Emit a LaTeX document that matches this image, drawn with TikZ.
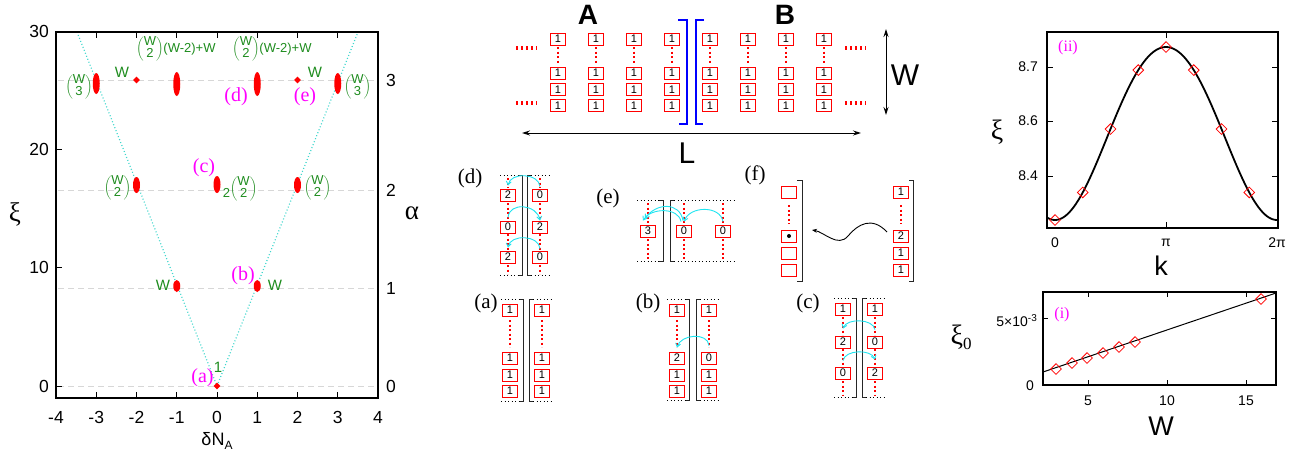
\documentclass[tikz,border=0pt]{standalone}
\usepackage{fontspec}
\setmainfont{Liberation Sans}
\newfontfamily\serifff{Liberation Serif}
\usetikzlibrary{arrows.meta,shapes.geometric}
\definecolor{grn}{RGB}{30,140,30}
\definecolor{mag}{RGB}{255,0,255}
\definecolor{turq}{RGB}{64,215,205}
\definecolor{cy}{RGB}{30,228,240}
\definecolor{lgray}{RGB}{215,215,215}
\newcommand{\fs}[1]{\fontsize{#1}{#1}\selectfont}
\newcommand{\bnm}[2]{$\left(\vcenter{\hbox{\fs{13}\begin{tabular}{@{}c@{}}#1\\[-1.5pt]#2\end{tabular}}}\right)$}
\newcommand{\brkpair}[4]{%
  \draw[brk] ({#1-4},#3) -- (#1,#3) -- (#1,#4) -- ({#1-4},#4);
  \draw[brk] ({#2+4},#3) -- (#2,#3) -- (#2,#4) -- ({#2+4},#4);
  \draw[kdots] ({#1-22},#3) -- ({#1-4},#3);
  \draw[kdots] ({#1-22},#4) -- ({#1-4},#4);
  \draw[kdots] ({#2+4},#3) -- ({#2+22},#3);
  \draw[kdots] ({#2+4},#4) -- ({#2+22},#4);
}
\begin{document}
\begin{tikzpicture}[x=1pt,y=-1pt,
  tick/.style={font=\fs{17.5}, inner sep=0pt},
  bx/.style={draw=red, line width=0.8pt, fill=white, minimum width=15pt, minimum height=12pt, inner sep=0pt, font=\fs{11}},
  rdots/.style={red, line width=1.6pt, dash pattern=on 2pt off 2.5pt},
  hdots/.style={red, line width=3.5pt, dash pattern=on 1.5pt off 3.5pt},
  kdots/.style={black, line width=0.7pt, dash pattern=on 1pt off 2.5pt},
  brk/.style={black!85, line width=1pt},
  carrow/.style={cy, line width=0.9pt, -{Straight Barb[length=3.5pt,width=5pt]}},
  glab/.style={text=grn, font=\fs{13}, inner sep=0pt},
  mlab/.style={text=mag, font=\serifff\fs{20}, inner sep=0pt},
  plab/.style={font=\serifff\fs{21}, inner sep=0pt},
  dmd/.style={diamond, draw=red, line width=0.8pt, minimum size=11pt, inner sep=0pt},
  blob/.style={ellipse, fill=red, inner sep=0pt, minimum width=7pt},
]
\useasboundingbox (0,0) rectangle (1316,464);

% ================= LEFT PLOT =================
\foreach \yy/\lab [count=\i] in {386/0, 288.3/1, 190/2, 80/3}{
  \draw[lgray, line width=1pt, dash pattern=on 6pt off 4pt] (58,\yy) -- (376,\yy);
  \node[tick, anchor=west] (alab\i) at (386,\yy) {\lab};
}
\coordinate (vO) at (217,386);
\coordinate (vL) at (77,32);
\coordinate (vR) at (358,32);
\draw[turq, line width=1.2pt, dash pattern=on 1pt off 2.2pt] (vL) -- (vO) -- (vR);
\draw[line width=1.6pt] (56,32) rectangle (378,398);
\foreach \xx/\lab [count=\i] in {56/-4, 96.25/-3, 136.5/-2, 176.75/-1, 217/0, 257.25/1, 297.5/2, 337.75/3, 378/4}{
  \node[tick] (xl\i) at (\xx,417) {\lab};
}
\foreach \xx in {96.25,136.5,176.75,217,257.25,297.5,337.75}{
  \draw[line width=1pt] (\xx,398) -- (\xx,392);
  \draw[line width=1pt] (\xx,32) -- (\xx,38);
}
\foreach \yy/\lab [count=\i] in {386/0, 267.8/10, 149.6/20, 31.4/30}{
  \draw[line width=1pt] (56,\yy) -- (62,\yy);
  \node[tick, anchor=east] (yl\i) at (49,\yy) {\lab};
}
\node[font=\fs{18}] (dna) at (217,441) {δN\raisebox{-4pt}{\fs{12}A}};
\node[font=\serifff\fs{27}] (xilab) at (15,214) {ξ};
\node[font=\serifff\fs{27}] (alab) at (412,213) {α};

% points
\node[diamond, fill=red, minimum size=7pt, inner sep=0pt] (p0) at (217,386) {};
\node[blob, minimum height=12pt] (pa1) at (176.75,286) {};
\node[blob, minimum height=12pt] (pb1) at (257.25,286) {};
\node[blob, minimum height=16pt] (pa2) at (136.5,185) {};
\node[blob, minimum height=17pt] (pb2) at (217,184.5) {};
\node[blob, minimum height=16pt] (pc2) at (297.5,185) {};
\node[blob, minimum height=21pt] (pa3) at (96.25,83.5) {};
\node[blob, minimum height=24pt] (pb3) at (176.75,84) {};
\node[blob, minimum height=24pt] (pc3) at (257.25,84) {};
\node[blob, minimum height=21pt] (pd3) at (337.75,83.5) {};
\node[diamond, fill=red, minimum size=7pt, inner sep=0pt] (pe3) at (136.5,80) {};
\node[diamond, fill=red, minimum size=7pt, inner sep=0pt] (pf3) at (297.5,80) {};

% green labels
\node[glab, font=\fs{15}] (g1) at (122,72) {W};
\node[glab, font=\fs{15}] (g2) at (315,72) {W};
\node[glab] (g3) at (176,49) {\bnm{W}{2}(W-2)+W};
\node[glab] (g4) at (272,49) {\bnm{W}{2}(W-2)+W};
\node[glab] (g5) at (79,87) {\bnm{W}{3}};
\node[glab] (g6) at (357.5,87) {\bnm{W}{3}};
\node[glab] (g7) at (117.5,188) {\bnm{W}{2}};
\node[glab] (g8) at (317.5,188) {\bnm{W}{2}};
\node[glab] (g9) at (240,189) {\raisebox{-5pt}{2}\bnm{W}{2}};
\node[glab, font=\fs{15}] (g10) at (163,285) {W};
\node[glab, font=\fs{15}] (g11) at (275,285) {W};
\node[glab, font=\fs{15}] (g12) at (218,367) {1};

% magenta labels
\node[mlab] (ma) at (202.5,378) {(a)};
\node[mlab] (mb) at (243,276) {(b)};
\node[mlab] (mc) at (204,168) {(c)};
\node[mlab] (md) at (236,97) {(d)};
\node[mlab] (me) at (305,97) {(e)};

% ================= MIDDLE TOP =================
\foreach \xx [count=\c] in {558,596,634,672,710,748,786,824}{
  \draw[rdots] (\xx,47) -- (\xx,64);
  \node[bx] (t\c-a) at (\xx,39) {1};
  \node[bx] (t\c-b) at (\xx,73) {1};
  \node[bx] (t\c-c) at (\xx,89.7) {1};
  \node[bx] (t\c-d) at (\xx,105.3) {1};
}
\draw[hdots] (516,48) -- (537,48);
\draw[hdots] (516,103) -- (537,103);
\draw[hdots] (845,48) -- (866,48);
\draw[hdots] (845,103) -- (866,103);
\draw[blue, line width=1.3pt] (678,20) -- (687,20) -- (687,124) -- (679,124);
\draw[blue, line width=1.3pt] (704,20) -- (696,20) -- (696,124) -- (703,124);
\node[font=\bfseries\fs{28}] (lA) at (588,15) {A};
\node[font=\bfseries\fs{28}] (lB) at (785,15) {B};
\coordinate (wT) at (886,29);
\coordinate (wB) at (886,115);
\draw[line width=1pt, {Stealth[length=8pt,width=5pt]}-{Stealth[length=8pt,width=5pt]}] (wT) -- (wB);
\node[font=\fs{30}] (lW) at (905,75) {W};
\coordinate (lL1) at (522,133);
\coordinate (lL2) at (861,133);
\draw[line width=1pt, {Stealth[length=8pt,width=5pt]}-{Stealth[length=8pt,width=5pt]}] (lL1) -- (lL2);
\node[font=\fs{30}] (lL) at (687,153) {L};

% ================= PANEL (d) =================
\node[plab] (ld) at (470,178) {(d)};
\foreach \xx in {508,540}{
  \draw[rdots] (\xx,178) -- (\xx,188);
  \draw[rdots] (\xx,203) -- (\xx,220);
  \draw[rdots] (\xx,234) -- (\xx,250);
  \draw[rdots] (\xx,265) -- (\xx,274);
}
\brkpair{522}{527}{175}{275}
\node[bx] (dL1) at (508,195) {2};
\node[bx] (dL2) at (508,227) {0};
\node[bx] (dL3) at (508,257) {2};
\node[bx] (dR1) at (540,195) {0};
\node[bx] (dR2) at (540,227) {2};
\node[bx] (dR3) at (540,257) {0};
\draw[carrow] ([yshift=2pt]dR1.north) to[out=95,in=80,looseness=1.1] ([yshift=3pt]dL1.north);
\draw[carrow] ([yshift=3pt]dL2.north) to[out=85,in=100,looseness=1.3] ([yshift=0pt]dR2.north);
\draw[carrow] ([yshift=2pt]dR3.north) to[out=95,in=80,looseness=1.1] ([yshift=3pt]dL3.north);

% ================= PANEL (e) =================
\node[plab] (le) at (608,198) {(e)};
\foreach \xx in {648,684,723}{
  \draw[rdots] (\xx,203) -- (\xx,223);
  \draw[rdots] (\xx,239) -- (\xx,259);
}
\draw[brk] (659,200) -- (663,200) -- (663,261) -- (659,261);
\draw[brk] (674,200) -- (670,200) -- (670,261) -- (674,261);
\draw[kdots] (637,200) -- (659,200);
\draw[kdots] (637,261) -- (659,261);
\draw[kdots] (674,200) -- (736,200);
\draw[kdots] (674,261) -- (736,261);
\node[bx] (e1) at (648,231) {3};
\node[bx] (e2) at (684,231) {0};
\node[bx] (e3) at (723,231) {0};
\draw[carrow] ([shift={(-3pt,3pt)}]e2.north) to[out=100,in=60,looseness=1.0] ([shift={(-5pt,4pt)}]e1.north);
\draw[carrow] ([shift={(-1pt,4pt)}]e2.north) to[out=100,in=55,looseness=1.3] ([shift={(-3pt,6pt)}]e1.north);
\draw[carrow] ([yshift=3pt]e3.north) to[out=100,in=70,looseness=1.1] ([yshift=3pt]e2.north);

% ================= PANEL (f) =================
\node[plab] (lf) at (755,175) {(f)};
\draw[rdots] (789,205) -- (789,224);
\draw[rdots] (901,205) -- (901,224);
\node[bx] (fL1) at (789,192) {};
\node[bx] (fL2) at (789,236) {};
\node[bx] (fL3) at (789,253) {};
\node[bx] (fL4) at (789,270) {};
\fill (fL2.center) circle (2pt);
\draw[brk] (797,180) -- (802,180) -- (802,281) -- (797,281);
\node[bx] (fR1) at (901,192) {1};
\node[bx] (fR2) at (901,236) {2};
\node[bx] (fR3) at (901,253) {1};
\node[bx] (fR4) at (901,270) {1};
\draw[brk] (909,180) -- (913,180) -- (913,281) -- (909,281);
\coordinate (wvS) at (887,232);
\coordinate (wvE) at (812,230);
\draw[line width=0.9pt, -{Stealth[length=5pt,width=4pt]}] (wvS) .. controls (872,216) and (858,224) .. (848,236) .. controls (838,248) and (824,232) .. (wvE);

% ================= PANEL (a) =================
\node[plab] (la) at (486,303) {(a)};
\foreach \col/\xx in {L/510,R/542}{
  \draw[rdots] (\xx,320) -- (\xx,347);
  \node[bx] (a\col1) at (\xx,310) {1};
  \node[bx] (a\col2) at (\xx,358) {1};
  \node[bx] (a\col3) at (\xx,375) {1};
  \node[bx] (a\col4) at (\xx,391) {1};
}
\brkpair{523}{529}{299}{401}

% ================= PANEL (b) =================
\node[plab] (lbb) at (648,303) {(b)};
\foreach \col/\xx/\v in {L/677/2,R/709/0}{
  \draw[rdots] (\xx,320) -- (\xx,347);
  \node[bx] (b\col1) at (\xx,310) {1};
  \node[bx] (b\col2) at (\xx,358) {\v};
  \node[bx] (b\col3) at (\xx,375) {1};
  \node[bx] (b\col4) at (\xx,391) {1};
}
\brkpair{689}{696}{299}{400}
\draw[carrow] ([yshift=6pt]bR2.north) to[out=95,in=75,looseness=1.1] ([yshift=4pt]bL2.north);

% ================= PANEL (c) =================
\node[plab] (lc) at (808,303) {(c)};
\foreach \col/\xx/\u/\w in {L/843/2/0,R/875/0/2}{
  \draw[rdots] (\xx,317) -- (\xx,335);
  \draw[rdots] (\xx,349) -- (\xx,366);
  \draw[rdots] (\xx,381) -- (\xx,395);
  \node[bx] (c\col1) at (\xx,309) {1};
  \node[bx] (c\col2) at (\xx,342) {\u};
  \node[bx] (c\col3) at (\xx,373) {\w};
}
\brkpair{856}{862}{298}{397}
\draw[carrow] ([yshift=6pt]cR2.north) to[out=100,in=70,looseness=0.9] ([yshift=7pt]cL2.north);
\draw[carrow] ([yshift=6pt]cL3.north) to[out=80,in=110,looseness=0.9] ([yshift=7pt]cR3.north);

% ================= RIGHT TOP PLOT =================
\begin{scope}
\clip (1047,32) rectangle (1278,228);
\draw[line width=1.8pt] plot[domain=-0.25:6.32, samples=120, smooth, variable=\t] ({1055+35.33*\t},{131.25+86.5*cos(\t r)+2.25*cos(2*\t r)});
\end{scope}
\draw[line width=1.3pt] (1047,32) rectangle (1278,228);
\foreach \yy/\lab [count=\i] in {67/8.7, 121/8.6, 176/8.4}{
  \draw[line width=1pt] (1047,\yy) -- (1053,\yy);
  \draw[line width=1pt] (1278,\yy) -- (1272,\yy);
  \node[font=\fs{14}, inner sep=0pt, anchor=east] (ky\i) at (1038,\yy) {\lab};
}
\draw[line width=1pt] (1166,228) -- (1166,222);
\draw[line width=1pt] (1166,32) -- (1166,38);
\node[font=\fs{14}, inner sep=0pt] (kx1) at (1055,243) {0};
\node[font=\fs{14}, inner sep=0pt] (kx2) at (1166,243) {π};
\node[font=\fs{14}, inner sep=0pt] (kx3) at (1277,243) {2π};
\node[font=\fs{27}, inner sep=0pt] (klab) at (1161,266) {k};
\node[font=\serifff\fs{28}, inner sep=0pt] (kxi) at (997,132) {ξ};
\node[text=mag, font=\serifff\fs{16}, inner sep=0pt] (lii) at (1068,48) {(ii)};
\foreach \n in {0,...,7}{
  \node[dmd] (kd\n) at ({1055+27.75*\n},{131.25+86.5*cos(45*\n)+2.25*cos(90*\n)}) {};
}

% ================= RIGHT BOTTOM PLOT =================
\coordinate (lnA) at (1043,372);
\coordinate (lnB) at (1276,293);
\draw[line width=1pt] (lnA) -- (lnB);
\draw[line width=1.3pt] (1043,292) rectangle (1276,385);
\foreach \xx/\lab [count=\i] in {1088/5, 1167/10, 1246/15}{
  \draw[line width=1pt] (\xx,385) -- (\xx,380);
  \draw[line width=1pt] (\xx,292) -- (\xx,297);
  \node[font=\fs{14}, inner sep=0pt] (wx\i) at (\xx,401) {\lab};
}
\draw[line width=1pt] (1043,318) -- (1048,318);
\draw[line width=1pt] (1276,318) -- (1271,318);
\node[font=\fs{14}, inner sep=0pt, anchor=east] (wy1) at (1034,386) {0};
\node[font=\fs{14}, inner sep=0pt, anchor=east] (wy2) at (1037,321) {5×10\raisebox{5pt}{\fs{10}-3}};
\node[font=\fs{27}, inner sep=0pt] (wlab) at (1161,426) {W};
\node[font=\serifff\fs{28}, inner sep=0pt] (x0lab) at (961,337) {ξ\raisebox{-5pt}{\fs{17}0}};
\node[text=mag, font=\serifff\fs{16}, inner sep=0pt] (li) at (1062,315) {(i)};
\foreach \xx/\yy [count=\i] in {1056/369, 1072/363, 1087/358, 1103/353, 1119/347, 1135/342, 1261/299}{
  \node[dmd] (wd\i) at (\xx,\yy) {};
}
\end{tikzpicture}
\end{document}
